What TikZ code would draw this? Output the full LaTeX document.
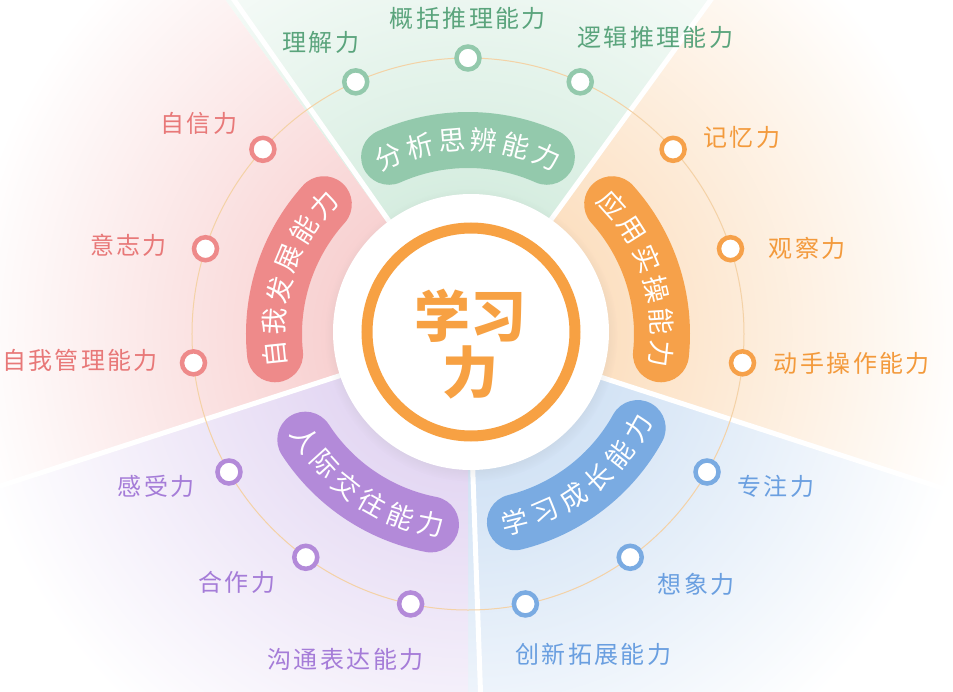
\documentclass[tikz,border=0pt]{standalone}
\usepackage{fontspec}
\usetikzlibrary{positioning,shadows}

\newfontfamily\cjk{Noto Sans CJK SC}
\newfontfamily\cjklbl[LetterSpace=10]{Noto Sans CJK SC}

\definecolor{secG}{HTML}{D6EDE0}
\definecolor{secO}{HTML}{FCE0C2}
\definecolor{secB}{HTML}{D3E3F5}
\definecolor{secP}{HTML}{E4D8F3}
\definecolor{secR}{HTML}{F8D2D2}
\definecolor{bandG}{HTML}{93C9AC}
\definecolor{bandO}{HTML}{F6A14A}
\definecolor{bandB}{HTML}{7AABE2}
\definecolor{bandP}{HTML}{B38AD9}
\definecolor{bandR}{HTML}{EE8A8A}
\definecolor{txtG}{HTML}{5AA47C}
\definecolor{txtO}{HTML}{F39A3C}
\definecolor{txtB}{HTML}{6A9FE0}
\definecolor{txtP}{HTML}{A57CD8}
\definecolor{txtR}{HTML}{E87878}
\definecolor{track}{HTML}{F4D2A6}
\definecolor{core}{HTML}{F7A143}

% sector fades, 25bp = radius of the shaded circle
\pgfdeclareradialshading{fadeG}{\pgfpoint{0bp}{0bp}}{color(0bp)=(secG); color(6bp)=(secG); color(21bp)=(white); color(50bp)=(white)}
\pgfdeclareradialshading{fadeO}{\pgfpoint{0bp}{0bp}}{color(0bp)=(secO); color(6bp)=(secO); color(21bp)=(white); color(50bp)=(white)}
\pgfdeclareradialshading{fadeB}{\pgfpoint{0bp}{0bp}}{color(0bp)=(secB); color(6bp)=(secB); color(21bp)=(white); color(50bp)=(white)}
\pgfdeclareradialshading{fadeP}{\pgfpoint{0bp}{0bp}}{color(0bp)=(secP); color(6bp)=(secP); color(21bp)=(white); color(50bp)=(white)}
\pgfdeclareradialshading{fadeR}{\pgfpoint{0bp}{0bp}}{color(0bp)=(secR); color(6bp)=(secR); color(21bp)=(white); color(50bp)=(white)}

\tikzset{
  dot/.style={circle, draw, fill=white, line width=4.5pt, minimum size=23pt, inner sep=0pt, outer sep=0pt},
  lbl/.style={font=\cjklbl\fontsize{24}{24}\selectfont, inner sep=0pt, outer sep=0pt},
  band/.style={line width=56pt, line cap=round},
  bandtxt/.style={font=\cjk\fontsize{27}{27}\selectfont, text=white, inner sep=0pt},
}

\begin{document}
\begin{tikzpicture}[x=1pt,y=1pt]
\useasboundingbox (-468,-357) rectangle (485,334);
\clip (-468,-357) rectangle (485,334);

% sectors
\foreach \a/\s in {90/fadeG, 18/fadeO, -54/fadeB, -126/fadeP, 162/fadeR}{
  \begin{scope}
    \clip (0,0) -- (\a-36:700) arc (\a-36:\a+36:700) -- cycle;
    \shade[shading=\s] (0,0) circle (600);
  \end{scope}
}
\foreach \a in {54,-18,-88,-162,125}
  \draw[white, line width=5pt] (0,0) -- (\a:700);

\draw[track, line width=1pt] (0,0) circle (276);

% curved bands
\foreach \st/\dl/\r/\col/\txt in {114/-9.6/-90/bandG/{分,析,思,辨,能,力}, 42/-9.6/-90/bandO/{应,用,实,操,能,力}, 186/-9.6/-90/bandR/{自,我,发,展,能,力}, -76/9.4/90/bandB/{学,习,成,长,能,力}, -147/9.2/90/bandP/{人,际,交,往,能,力}}{
  \draw[band, \col] (\st:194) arc (\st:\st+5*\dl:194);
  \foreach \c [count=\i] in \txt {
    \pgfmathsetmacro\t{\st+(\i-1)*\dl}
    \node[bandtxt, rotate=\t+\r] (b\st-\i) at (\t:194) {\c};
  }
}

% centre
\fill[white, circular drop shadow={shadow xshift=0pt, shadow yshift=-3pt, shadow scale=1.06, opacity=0.18}] (3,2) circle (138);
\draw[core, line width=11pt] (3,2) circle (104);
\node[font=\cjk\bfseries\fontsize{56}{56}\selectfont, text=core, align=center, inner sep=0pt] (xxl) at (3,-10) {学习\\力};

% ability dots
\node[dot, draw=bandG] (p1) at (114:276) {};
\node[dot, draw=bandG] (p2) at (90:276) {};
\node[dot, draw=bandG] (p3) at (66:276) {};
\node[dot, draw=bandO] (p4) at (42:276) {};
\node[dot, draw=bandO] (p5) at (18:276) {};
\node[dot, draw=bandO] (p6) at (-6:276) {};
\node[dot, draw=bandB] (p7) at (-30:276) {};
\node[dot, draw=bandB] (p8) at (-54:276) {};
\node[dot, draw=bandB] (p9) at (-78:276) {};
\node[dot, draw=bandP] (p10) at (-102:276) {};
\node[dot, draw=bandP] (p11) at (-126:276) {};
\node[dot, draw=bandP] (p12) at (-150:276) {};
\node[dot, draw=bandR] (p13) at (-174:276) {};
\node[dot, draw=bandR] (p14) at (162:276) {};
\node[dot, draw=bandR] (p15) at (138:276) {};

% ability labels
\node[lbl, text=txtG, above=17pt of p1, xshift=-35pt] (l1) {理解力};
\node[lbl, text=txtG, above=17pt of p2] (l2) {概括推理能力};
\node[lbl, text=txtG, above=22pt of p3, xshift=75pt] (l3) {逻辑推理能力};
\node[lbl, text=txtO, right=19pt of p4, yshift=12pt] (l4) {记忆力};
\node[lbl, text=txtO, right=27pt of p5] (l5) {观察力};
\node[lbl, text=txtO, right=20pt of p6, yshift=-1pt] (l6) {动手操作能力};
\node[lbl, text=txtB, right=19pt of p7, yshift=-14pt] (l7) {专注力};
\node[lbl, text=txtB, right=16pt of p8, yshift=-27pt] (l8) {想象力};
\node[lbl, text=txtB, below=28pt of p9, xshift=68pt] (l9) {创新拓展能力};
\node[lbl, text=txtP, below=33pt of p10, xshift=-65pt] (l10) {沟通表达能力};
\node[lbl, text=txtP, left=19pt of p11, yshift=-25pt] (l11) {合作力};
\node[lbl, text=txtP, left=23pt of p12, yshift=-14pt] (l12) {感受力};
\node[lbl, text=txtR, left=24pt of p13, yshift=2pt] (l13) {自我管理能力};
\node[lbl, text=txtR, left=27pt of p14, yshift=3pt] (l14) {意志力};
\node[lbl, text=txtR, left=14pt of p15, yshift=26pt] (l15) {自信力};
\end{tikzpicture}
\end{document}
